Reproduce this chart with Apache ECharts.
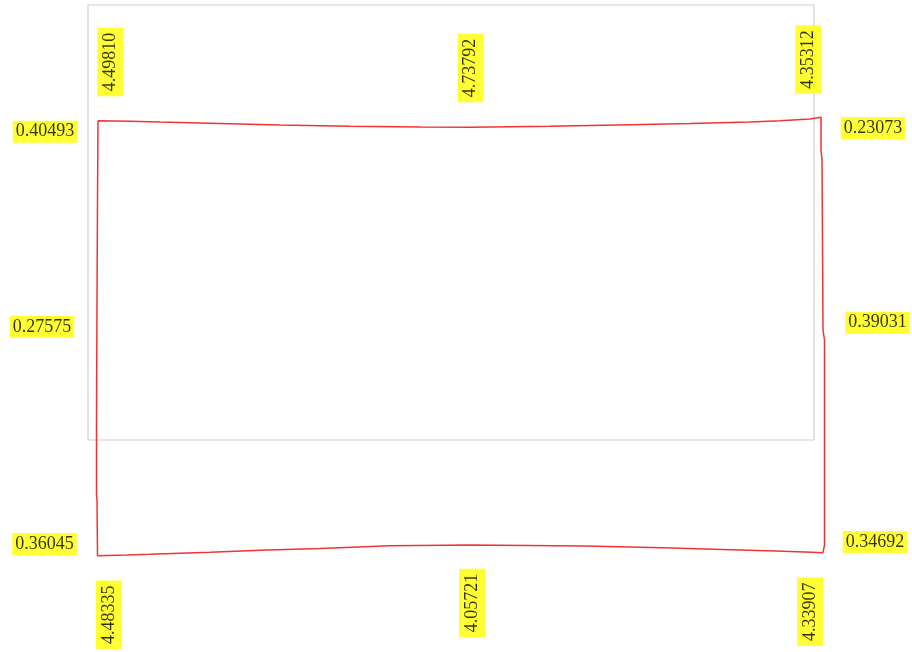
<!DOCTYPE html>
<html>
<head>
<meta charset="utf-8">
<script src="https://cdn.jsdelivr.net/npm/echarts@6/dist/echarts.min.js"></script>
<style>html,body{margin:0;padding:0;background:#fff;}#c{width:912px;height:652px;}</style>
</head>
<body>
<div id="c"></div>
<script>
// Frame rectangle corners
var frameX = [88, 814, 814, 88, 88];
var frameY = [5, 5, 440, 440, 5];

// Red outline, closed loop
var outlineX = [98, 130, 160, 200, 240, 280, 350, 420, 470, 550, 590, 630, 690, 750, 780, 810, 821,
  821, 822, 823, 824.5, 824.5, 823,
  812, 775, 740, 705, 672, 630, 585, 470, 390, 320, 260, 210, 180, 150, 127, 97.5,
  97, 96.5, 96.5, 97, 97.5, 98];
var outlineY = [120.7, 121.2, 122, 123, 124, 125, 126.2, 127, 127.3, 126.3, 125.5, 124.7, 123.5, 122, 120.8, 119, 117.3,
  150, 160, 330, 340, 545, 552.7,
  552.3, 551, 550, 549, 548, 547, 546, 545, 545.7, 548.5, 550.3, 552.3, 553.3, 554.3, 555, 555.7,
  500, 495, 420, 300, 200, 120.7];

// Label values
var leftValues = ["0.40493", "0.27575", "0.36045"];
var rightValues = ["0.23073", "0.39031", "0.34692"];
var topValues = ["4.49810", "4.73792", "4.35312"];
var bottomValues = ["4.48335", "4.05721", "4.33907"];

// Label anchor points
var leftX = [45, 42, 44.5], leftY = [131.7, 327, 544];
var rightX = [873, 877.5, 875], rightY = [128, 322.7, 542];
var topX = [110.3, 470.7, 808.3], topY = [62, 68, 59.5];
var bottomX = [109, 472, 810], bottomY = [614.7, 603, 611.7];

function pts(xs, ys, vals) {
  return xs.map(function (x, i) { return vals ? [x, ys[i], vals[i]] : [x, ys[i]]; });
}

var baseLabel = {
  show: true,
  position: 'inside',
  color: '#000',
  backgroundColor: '#ffff00',
  fontFamily: 'Liberation Serif',
  fontSize: 18,
  lineHeight: 20,
  formatter: function (p) { return p.value[2]; }
};

function labelSeries(xs, ys, vals, rotated) {
  var lab = Object.assign({}, baseLabel, rotated ? { rotate: 90, padding: [3, 5] } : { padding: [1, 3] });
  return {
    type: 'scatter',
    clip: false,
    symbolSize: 0,
    silent: true,
    data: pts(xs, ys, vals),
    label: lab,
    z: 5
  };
}

var chart = echarts.init(document.getElementById('c'), null, { renderer: 'canvas' });
chart.setOption({
  animation: false,
  backgroundColor: '#fff',
  grid: { left: 0, top: 0, right: 0, bottom: 0, show: false },
  xAxis: { type: 'value', min: 0, max: 912, show: false },
  yAxis: { type: 'value', min: 0, max: 652, inverse: true, show: false },
  series: [
    {
      type: 'line',
      clip: false,
      silent: true,
      symbol: 'none',
      data: pts(frameX, frameY),
      lineStyle: { color: '#d0d0d0', width: 1.2 },
      z: 2
    },
    {
      type: 'line',
      clip: false,
      silent: true,
      symbol: 'none',
      data: pts(outlineX, outlineY),
      lineStyle: { color: '#f03434', width: 1.5 },
      z: 3
    },
    labelSeries(leftX, leftY, leftValues, false),
    labelSeries(rightX, rightY, rightValues, false),
    labelSeries(topX, topY, topValues, true),
    labelSeries(bottomX, bottomY, bottomValues, true)
  ]
});
</script>
</body>
</html>
